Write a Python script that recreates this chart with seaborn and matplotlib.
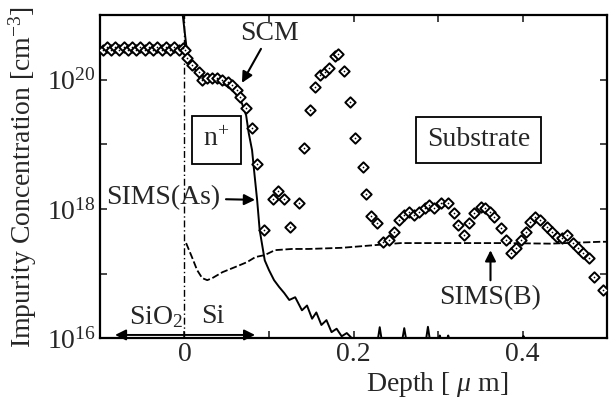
import matplotlib
matplotlib.use("Agg")
import matplotlib.pyplot as plt
import numpy as np
import pandas as pd
import seaborn as sns

# ==============================
# Dados
# ==============================

# SCM (diamantes) - profundidade em um, concentracao em cm^-3
scm_x = [-0.096, -0.091, -0.087, -0.082, -0.077, -0.072, -0.067, -0.062, -0.057, -0.052,
         -0.047, -0.042, -0.037, -0.032, -0.027, -0.022, -0.017, -0.012, -0.007, -0.002,
         0.001, 0.0035, 0.009, 0.0176, 0.021, 0.027, 0.033, 0.039, 0.045, 0.051,
         0.056, 0.062, 0.066, 0.073, 0.080, 0.086, 0.094, 0.105, 0.111, 0.118,
         0.125, 0.136, 0.141, 0.148, 0.154, 0.160, 0.166, 0.171, 0.178, 0.182,
         0.189, 0.196, 0.202, 0.211, 0.215, 0.221, 0.228, 0.235, 0.242, 0.248,
         0.254, 0.260, 0.266, 0.272, 0.278, 0.284, 0.289, 0.295, 0.304, 0.312,
         0.319, 0.324, 0.331, 0.336, 0.342, 0.351, 0.356, 0.362, 0.366, 0.374,
         0.380, 0.386, 0.392, 0.398, 0.404, 0.409, 0.415, 0.421, 0.429, 0.435,
         0.441, 0.447, 0.453, 0.459, 0.465, 0.472, 0.478, 0.484, 0.495]
scm_y = [2.9e20, 3.2e20, 2.9e20, 3.2e20, 2.9e20, 3.2e20, 2.9e20, 3.2e20, 2.9e20, 3.2e20,
         2.9e20, 3.2e20, 2.9e20, 3.2e20, 2.9e20, 3.2e20, 2.9e20, 3.2e20, 2.9e20, 3.1e20,
         2.9e20, 2.16e20, 1.68e20, 1.31e20, 9.9e19, 1.06e20, 1.06e20, 1.06e20, 9.9e19, 9.2e19,
         8.2e19, 6.9e19, 5.4e19, 3.6e19, 1.78e19, 4.9e18, 4.7e17, 1.42e18, 1.89e18, 1.42e18,
         5.2e17, 1.23e18, 8.7e18, 3.4e19, 7.7e19, 1.18e20, 1.31e20, 1.51e20, 2.3e20, 2.5e20,
         1.36e20, 4.5e19, 1.25e19, 4.4e18, 1.7e18, 7.7e17, 6.0e17, 3.06e17, 3.3e17, 4.4e17,
         6.7e17, 8.0e17, 8.9e17, 8.0e17, 8.9e17, 1.03e18, 1.15e18, 1.03e18, 1.23e18, 1.23e18,
         8.6e17, 5.6e17, 3.9e17, 6.0e17, 8.6e17, 1.07e18, 1.03e18, 8.9e17, 7.5e17, 5.0e17,
         3.3e17, 2.1e17, 2.5e17, 3.3e17, 4.4e17, 6.3e17, 7.5e17, 6.7e17, 5.2e17, 4.4e17,
         3.7e17, 3.5e17, 3.9e17, 2.96e17, 2.5e17, 2.1e17, 1.73e17, 8.8e16, 5.5e16]

# SIMS(As) - linha continua
as_x = [-0.002, 0.0024, 0.006, 0.013, 0.021, 0.033, 0.041, 0.051, 0.060, 0.068,
        0.073, 0.076, 0.080, 0.082, 0.086, 0.089, 0.095, 0.100, 0.106, 0.112,
        0.118, 0.124, 0.131, 0.139, 0.145, 0.151, 0.156, 0.162, 0.168, 0.174,
        0.180, 0.186, 0.192, 0.198, 0.229, 0.231, 0.233, 0.258, 0.260, 0.262,
        0.286, 0.288, 0.290, 0.301, 0.302, 0.303, 0.311, 0.312, 0.313, 0.400,
        0.401, 0.402, 0.500]
as_y = [1e21, 3.2e20, 2.0e20, 1.4e20, 1.06e20, 9.9e19, 9.2e19, 7.9e19, 6.2e19, 4.3e19,
        2.8e19, 1.5e19, 8.1e18, 4.4e18, 1.37e18, 4.7e17, 1.6e17, 1.13e17, 7.9e16, 6.2e16,
        5.0e16, 3.9e16, 4.3e16, 2.7e16, 3.2e16, 2.0e16, 2.5e16, 1.6e16, 1.9e16, 1.24e16,
        1.4e16, 1.07e16, 1.2e16, 1.0e16, 1.0e16, 1.48e16, 1.0e16, 1.0e16, 1.43e16, 1.0e16,
        1.0e16, 1.5e16, 1.0e16, 1.0e16, 1.1e16, 1.0e16, 1.0e16, 1.1e16, 1.0e16, 1.0e16,
        1.08e16, 1.0e16, 1.0e16]

# SIMS(B) - linha tracejada
b_x = [0.002, 0.0094, 0.015, 0.021, 0.027, 0.033, 0.045, 0.060, 0.074, 0.084,
       0.095, 0.107, 0.127, 0.147, 0.186, 0.225, 0.256, 0.315, 0.374, 0.433, 0.492, 0.500]
b_y = [2.96e17, 1.73e17, 1.13e17, 8.5e16, 7.9e16, 8.5e16, 1.05e17, 1.26e17, 1.5e17, 1.8e17,
       1.93e17, 2.3e17, 2.4e17, 2.4e17, 2.5e17, 2.75e17, 2.96e17, 2.96e17, 2.96e17, 2.9e17,
       3.1e17, 3.1e17]

xticks = [-0.1, 0.0, 0.1, 0.2, 0.3, 0.4, 0.5]
xticklabels = ['', '0', '', '0.2', '', '0.4', '']
yticks = [1e16, 1e17, 1e18, 1e19, 1e20, 1e21]
yticklabels = ['$10^{16}$', '', '$10^{18}$', '', '$10^{20}$', '']

df_scm = pd.DataFrame({'depth': scm_x, 'conc': scm_y})
df_as = pd.DataFrame({'depth': as_x, 'conc': as_y})
df_b = pd.DataFrame({'depth': b_x, 'conc': b_y})

# ==============================
# Estilo
# ==============================

sns.set_style("ticks")
plt.rcParams['font.family'] = ['Liberation Serif', 'DejaVu Serif']
plt.rcParams['mathtext.fontset'] = 'custom'
plt.rcParams['mathtext.rm'] = 'Liberation Serif'
plt.rcParams['mathtext.it'] = 'Liberation Serif:italic'
plt.rcParams['mathtext.bf'] = 'Liberation Serif:bold'

fig = plt.figure(figsize=(6.09, 4.05), dpi=100)
ax = fig.add_axes([0.164, 0.165, 0.833, 0.798])

# ==============================
# Curvas
# ==============================

ax.axvline(0, color='black', lw=1.0, ls=(0, (5, 2, 1, 2)), zorder=1)

sns.lineplot(data=df_b, x='depth', y='conc', ax=ax, color='black', lw=1.3,
             linestyle=(0, (4, 1.5)), sort=False, estimator=None, zorder=2)
sns.lineplot(data=df_as, x='depth', y='conc', ax=ax, color='black', lw=1.4,
             sort=False, estimator=None, zorder=3)
sns.scatterplot(data=df_scm, x='depth', y='conc', ax=ax, marker='D', s=28,
                facecolor='white', edgecolor='black', linewidth=1.4, zorder=4)
sns.scatterplot(data=df_scm, x='depth', y='conc', ax=ax, marker='o', s=1.5,
                color='black', linewidth=0, zorder=5)

ax.set_yscale('log')
ax.set_xlim(-0.1, 0.5)
ax.set_ylim(1e16, 1e21)
ax.set_xticks(xticks)
ax.set_xticklabels(xticklabels)
ax.set_yticks(yticks)
ax.set_yticklabels(yticklabels)
ax.minorticks_off()
ax.tick_params(direction='in', length=5, width=1.2, top=True, right=True,
               labelsize=20, pad=3)

for sp in ax.spines.values():
    sp.set_linewidth(1.6)
    sp.set_color('black')

ax.set_xlabel('Depth [ $\\mu$ m]', fontsize=20)
ax.set_ylabel('Impurity Concentration [cm$^{-3}$]', fontsize=20)
ax.xaxis.set_label_coords(0.665, -0.1)
ax.yaxis.set_label_coords(-0.12, 0.5)

# ==============================
# Anotacoes
# ==============================

arrow = dict(arrowstyle='-|>', color='black', lw=1.5, mutation_scale=16,
             shrinkA=0, shrinkB=0)

ax.annotate('SCM', xy=(0.068, 10**19.95), xytext=(0.101, 10**20.72),
            ha='center', va='center', fontsize=20, arrowprops=arrow)

ax.text(0.038, 10**19.07, 'n$^{+}$', ha='center', va='center', fontsize=20,
        bbox=dict(boxstyle='square,pad=0.42', fc='white', ec='black', lw=1.3))
ax.text(0.348, 10**19.07, 'Substrate', ha='center', va='center', fontsize=20,
        bbox=dict(boxstyle='square,pad=0.38', fc='white', ec='black', lw=1.3))

ax.annotate('SIMS(As)', xy=(0.0835, 10**18.14), xytext=(-0.093, 10**18.17),
            ha='left', va='center', fontsize=20,
            arrowprops=dict(arrow, shrinkA=2))

ax.annotate('SIMS(B)', xy=(0.362, 10**17.36), xytext=(0.362, 10**16.63),
            ha='center', va='center', fontsize=20,
            arrowprops=dict(arrow, shrinkA=1))

ax.text(-0.034, 10**16.33, 'SiO$_2$', ha='center', va='center', fontsize=20)
ax.text(0.033, 10**16.33, 'Si', ha='center', va='center', fontsize=20)
ax.annotate('', xy=(-0.082, 10**16.05), xytext=(0.0835, 10**16.05),
            arrowprops=dict(arrowstyle='<|-|>', color='black', lw=1.4,
                            mutation_scale=16, shrinkA=0, shrinkB=0))

fig.savefig('out.png', dpi=100)
